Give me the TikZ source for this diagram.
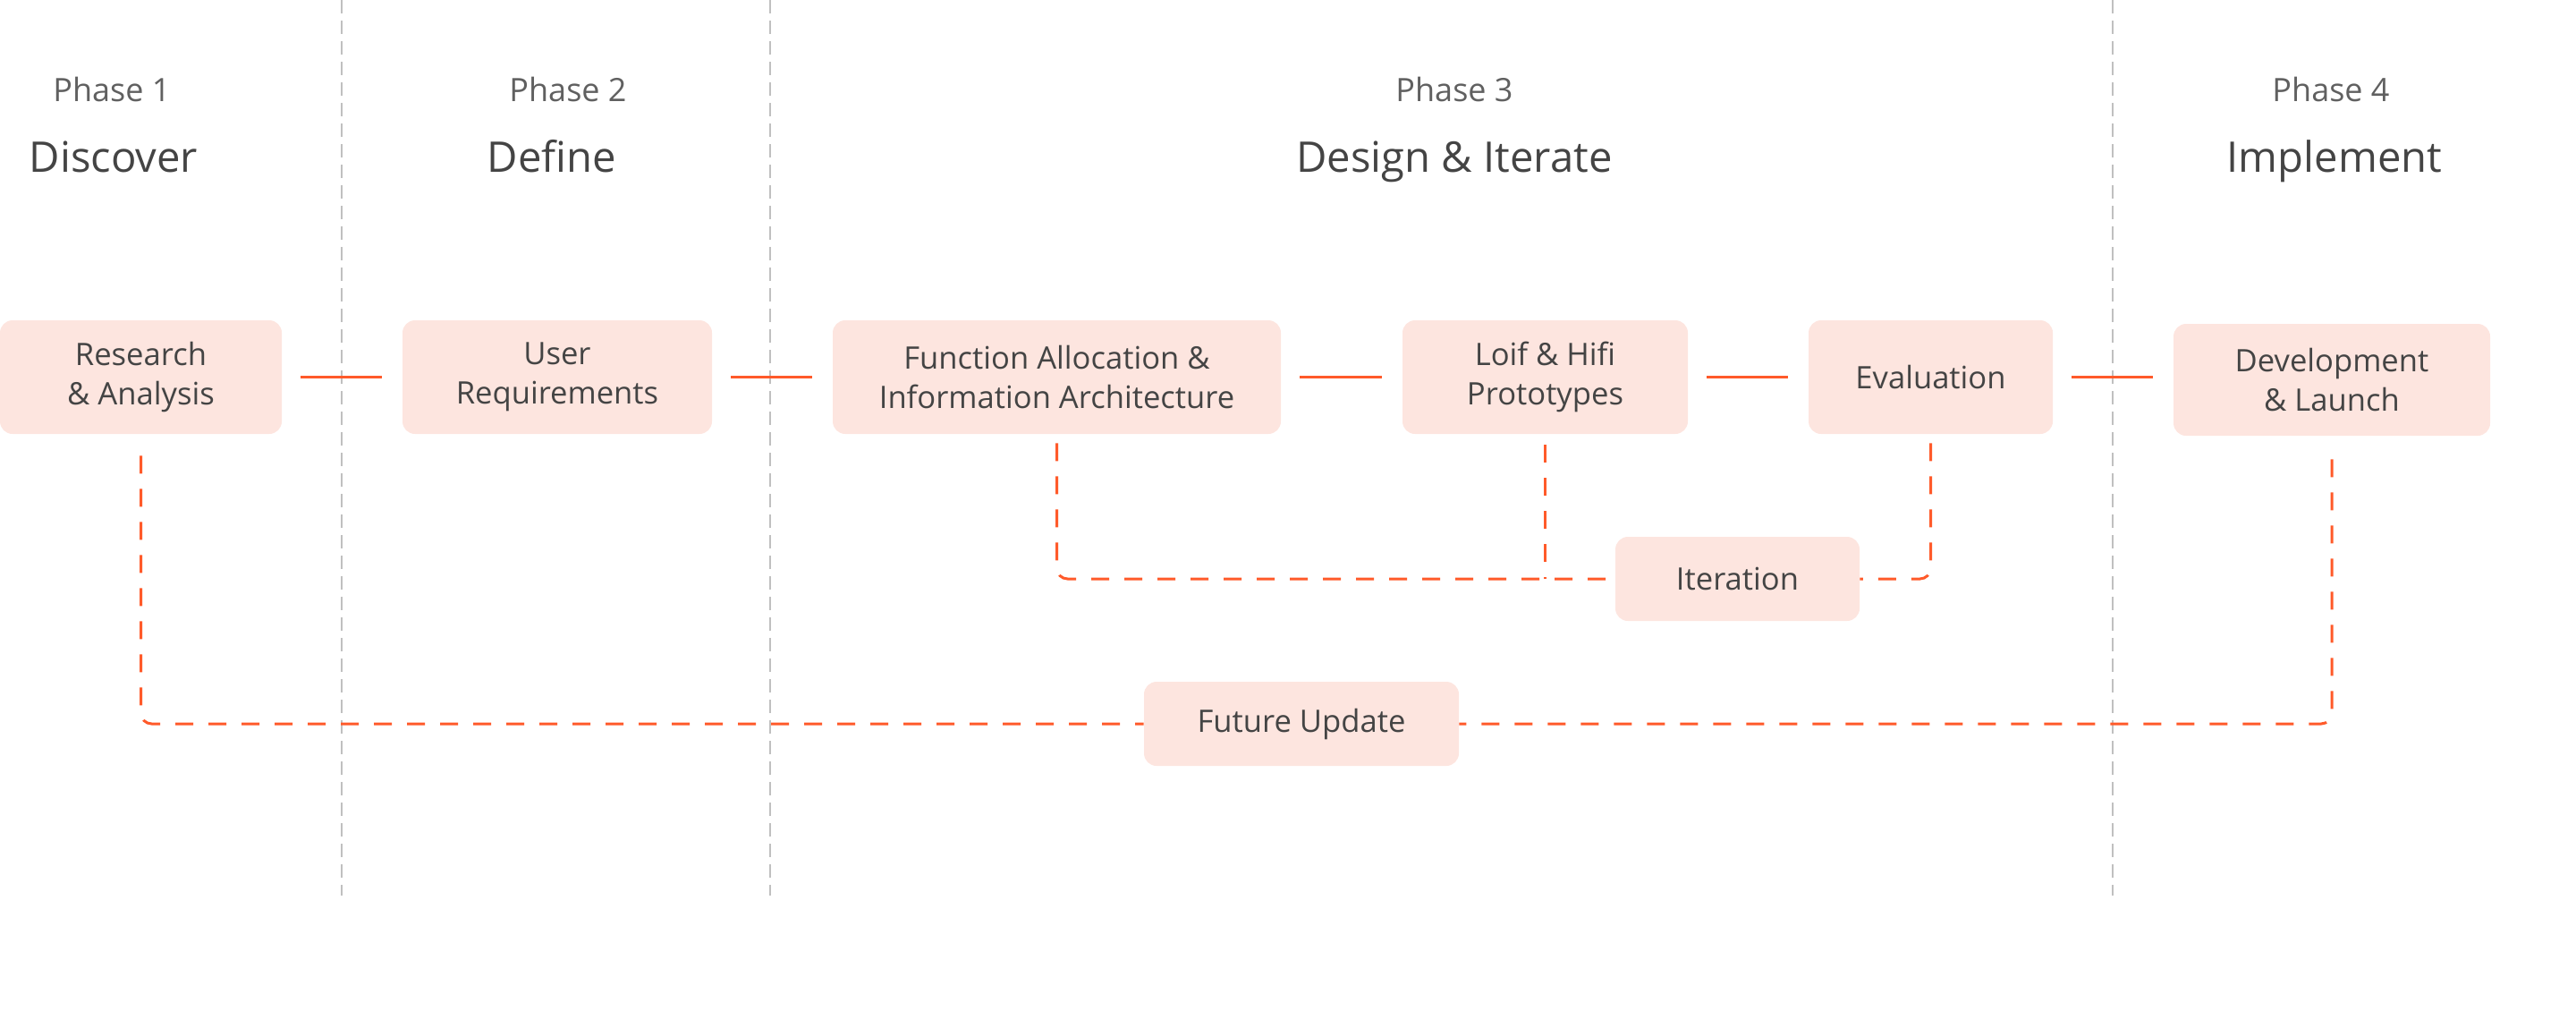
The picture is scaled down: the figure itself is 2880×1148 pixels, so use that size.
\documentclass[tikz,border=0pt]{standalone}
\usepackage{fontspec}
\setmainfont{Open Sans}
\usetikzlibrary{calc}
\definecolor{boxfill}{HTML}{FDE5DF}
\definecolor{accent}{HTML}{FF5A2A}
\definecolor{txt}{HTML}{444444}
\definecolor{phasetxt}{HTML}{606060}
\definecolor{divider}{HTML}{C0C0C0}
\begin{document}
\begin{tikzpicture}[x=0.5pt,y=-0.5pt,
  box/.style={fill=boxfill, rounded corners=7pt, inner sep=0pt, align=center, text=txt,
    font=\fontsize{17.3}{22}\selectfont},
  phase/.style={anchor=base, text=phasetxt, inner sep=0pt, font=\fontsize{18}{20}\selectfont},
  ptitle/.style={anchor=base, text=txt, inner sep=0pt, font=\fontsize{23.6}{26}\selectfont},
  solidlink/.style={draw=accent, line width=1.5pt, shorten <=10.5pt, shorten >=11.5pt},
  dashlink/.style={draw=accent, line width=1.5pt, dash pattern=on 10pt off 8.5pt, rounded corners=6pt},
  divline/.style={draw=divider, line width=1pt, dash pattern=on 7.5pt off 4pt}]
\useasboundingbox (0,0) rectangle (2880,1148);

% phase dividers
\draw[divline] (382,0) -- (382,1001);
\draw[divline] (861,0) -- (861,1001);
\draw[divline] (2362,0) -- (2362,1001);

% phase headings
\node[phase] (p1) at (125,113) {Phase 1};
\node[ptitle] (t1) at (127,192) {Discover};
\node[phase] (p2) at (635,113) {Phase 2};
\node[ptitle] (t2) at (617,192) {Define};
\node[phase] (p3) at (1626,113) {Phase 3};
\node[ptitle] (t3) at (1626,192) {Design \& Iterate};
\node[phase] (p4) at (2606,113) {Phase 4};
\node[ptitle] (t4) at (2610,192) {Implement};

% boxes
\node[box, minimum width=157.5pt, minimum height=63.5pt] (ra) at (157.5,421.5) {Research\\\& Analysis};
\node[box, minimum width=173pt, minimum height=63.5pt] (ur) at (623,421.5) {User\\Requirements};
\node[box, minimum width=250.5pt, minimum height=63.5pt] (fa) at (1181.5,421.5) {Function Allocation \&\\Information Architecture};
\node[box, minimum width=159.5pt, minimum height=63.5pt] (lh) at (1727.5,421.5) {Loif \& Hifi\\Prototypes};
\node[box, minimum width=136.5pt, minimum height=63.5pt] (ev) at (2158.5,421.5) {Evaluation};
\node[box, minimum width=177pt, minimum height=62.5pt] (dl) at (2607,424.5) {Development\\\& Launch};
\node[box, minimum width=136.5pt, minimum height=47pt] (it) at (1942.5,647) {Iteration};
\node[box, minimum width=176pt, minimum height=47pt] (fu) at (1455,809) {Future Update};

% solid connectors
\draw[solidlink] (ra.east) -- (ur.west);
\draw[solidlink] (ur.east) -- (fa.west);
\draw[solidlink] (fa.east) -- (lh.west);
\draw[solidlink] (lh.east) -- (ev.west);
\draw[solidlink] (ev.east) -- (ev.east -| dl.west);

% dashed loops
\draw[dashlink] ([yshift=-12pt]ra.south) |- (fu.west);
\draw[dashlink] ([yshift=-13pt]dl.south) |- (fu.east);
\draw[dashlink] ([yshift=-5pt]fa.south) |- (it.west);
\draw[dashlink] ([yshift=-6pt]lh.south) -- (lh.south |- it.west);
\draw[dashlink] ([yshift=-5pt]ev.south) |- (it.east);
\end{tikzpicture}
\end{document}
